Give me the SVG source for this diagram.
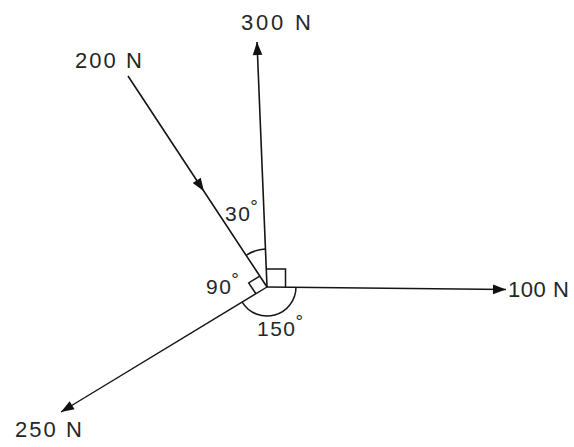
<svg xmlns="http://www.w3.org/2000/svg" width="574" height="447" viewBox="0 0 574 447">
  <style>
    .force { stroke: #151515; stroke-width: 1.6; fill: none; }
    .mark { stroke: #151515; stroke-width: 1.5; fill: none; }
    .lbl { font-family: "Liberation Sans", Arial, sans-serif; font-size: 22px; fill: #262626; }
    .ang { font-family: "Liberation Sans", Arial, sans-serif; font-size: 21px; fill: #262626; letter-spacing: 1.5px; }
    .deg { font-size: 19px; letter-spacing: 0; }
  </style>
  <defs>
    <marker id="arrow" viewBox="-14 -6 15 12" refX="0" refY="0" markerUnits="userSpaceOnUse" markerWidth="15" markerHeight="12" orient="auto">
      <path d="M0,0 L-13,-4.8 L-13,4.8 Z" fill="#111"/>
    </marker>
  </defs>

  <rect width="574" height="447" fill="#ffffff"/>

  <g id="connectors">
    <path id="f300" class="force" d="M267,287 L257,42" marker-end="url(#arrow)"/>
    <path id="f100" class="force" d="M267,287 L506,289.5" marker-end="url(#arrow)"/>
    <path id="f250" class="force" d="M267,287 L61,412" marker-end="url(#arrow)" style="stroke-width:1.4"/>
    <path id="f200" class="force" d="M128,76 L203.9,191.3 L267,287" marker-mid="url(#arrow)"/>
  </g>

  <g id="label-300N"><text class="lbl" x="241" y="30" textLength="70" lengthAdjust="spacing">300 N</text></g>
  <g id="label-200N"><text class="lbl" x="75" y="68" textLength="67" lengthAdjust="spacing">200 N</text></g>
  <g id="label-100N"><text class="lbl" x="508" y="297" textLength="61" lengthAdjust="spacing">100 N</text></g>
  <g id="label-250N"><text class="lbl" x="15" y="437" textLength="67" lengthAdjust="spacing">250 N</text></g>

  <g id="angle-30">
    <path class="mark" d="M246.1,255.3 A38,38 0 0 1 265.45,249.03"/>
    <text class="ang" x="225" y="221">30<tspan class="deg" dx="-1" dy="-8">°</tspan></text>
  </g>
  <g id="angle-90">
    <path class="mark" d="M259.85,276.14 L248.7,282.9 L255.9,293.75"/>
    <text class="ang" x="206" y="294">90<tspan class="deg" dx="-1" dy="-8">°</tspan></text>
  </g>
  <g id="angle-right-300-100">
    <path class="mark" d="M266.3,269 L285.5,269 L285.5,287.2"/>
  </g>
  <g id="angle-150">
    <path class="mark" d="M296,287.3 A29,29 0 0 1 242.2,302.05"/>
    <text class="ang" x="257" y="336">150<tspan class="deg" dx="-1" dy="-8">°</tspan></text>
  </g>
</svg>
